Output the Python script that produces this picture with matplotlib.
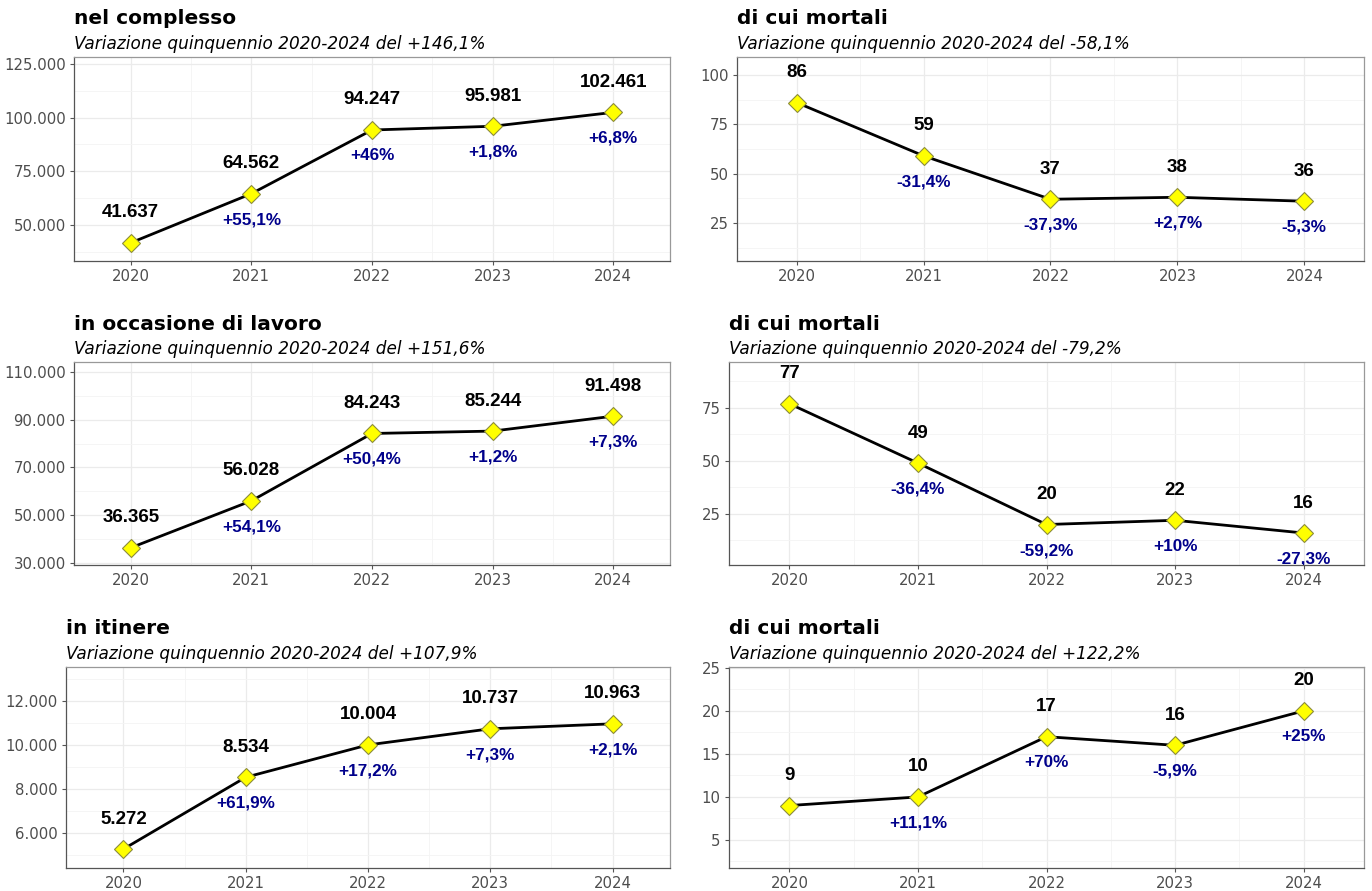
import numpy as np
import matplotlib.pyplot as plt

years = [2020, 2021, 2022, 2023, 2024]

titles = ["nel complesso", "di cui mortali",
          "in occasione di lavoro", "di cui mortali",
          "in itinere", "di cui mortali"]
subtitles = ["+146,1%", "-58,1%", "+151,6%", "-79,2%", "+107,9%", "+122,2%"]

tot_all = [41637, 64562, 94247, 95981, 102461]
tot_mort = [86, 59, 37, 38, 36]
lav_all = [36365, 56028, 84243, 85244, 91498]
lav_mort = [77, 49, 20, 22, 16]
itin_all = [5272, 8534, 10004, 10737, 10963]
itin_mort = [9, 10, 17, 16, 20]

pct_tot_all = ["+55,1%", "+46%", "+1,8%", "+6,8%"]
pct_tot_mort = ["-31,4%", "-37,3%", "+2,7%", "-5,3%"]
pct_lav_all = ["+54,1%", "+50,4%", "+1,2%", "+7,3%"]
pct_lav_mort = ["-36,4%", "-59,2%", "+10%", "-27,3%"]
pct_itin_all = ["+61,9%", "+17,2%", "+7,3%", "+2,1%"]
pct_itin_mort = ["+11,1%", "+70%", "-5,9%", "+25%"]

series = [tot_all, tot_mort, lav_all, lav_mort, itin_all, itin_mort]
pcts = [pct_tot_all, pct_tot_mort, pct_lav_all, pct_lav_mort, pct_itin_all, pct_itin_mort]

# panel boxes in pixels: left, top, right, bottom
W, H = 1372, 891
boxes = [(74, 57, 670, 261), (737, 57, 1364, 261),
         (74, 362, 670, 565), (729, 362, 1364, 565),
         (66, 667, 670, 868), (729, 667, 1364, 868)]
ylims = [(33180, 128270), (5.7, 109.1),
         (29160, 114180), (0.9, 96.7),
         (4410, 13545), (1.74, 25.1)]
ymaj = [25000, 25, 20000, 25, 2000, 5]
ymin_start = [50000, 25, 30000, 25, 6000, 5]


def fmt_it(v):
    return f"{int(v):,}".replace(",", ".")


fig = plt.figure(figsize=(W / 100, H / 100), dpi=100)
for i in range(6):
    l, t, r, b = boxes[i]
    ax = fig.add_axes([l / W, 1 - b / H, (r - l) / W, (b - t) / H])
    lo, hi = ylims[i]
    step = ymaj[i]
    majors = np.arange(ymin_start[i], hi, step)
    minors = np.arange(ymin_start[i] - step / 2, hi, step)
    minors = minors[(minors > lo) & (minors < hi)]
    ax.set_ylim(lo, hi)
    ax.set_xlim(2019.53, 2024.47)
    ax.set_yticks(majors)
    ax.set_yticklabels([fmt_it(v) for v in majors])
    ax.set_yticks(minors, minor=True)
    ax.set_xticks(years)
    ax.set_xticks([2020.5, 2021.5, 2022.5, 2023.5], minor=True)
    ax.grid(True, which='major', color='#EBEBEB', lw=0.9)
    ax.grid(True, which='minor', color='#F4F4F4', lw=0.6)
    ax.set_axisbelow(True)
    ax.tick_params(which='minor', length=0)
    ax.tick_params(which='major', length=3, color='#555555', labelcolor='#4D4D4D',
                   labelsize=10.7, pad=3)
    for s in ax.spines.values():
        s.set_color('#999999')
        s.set_linewidth(0.9)
    ax.spines['left'].set_color('#555555')
    ax.spines['bottom'].set_color('#555555')

    vals = series[i]
    ax.plot(years, vals, color='black', lw=2, zorder=3)
    ax.plot(years, vals, 'D', ms=9, mfc='#FFFF00', mec='#8C8C3C', mew=0.8, zorder=4)
    for x, v in zip(years, vals):
        ax.annotate(fmt_it(v), (x, v), xytext=(0, 30), textcoords='offset pixels',
                    ha='center', va='center', fontsize=13.5, fontweight='bold',
                    family='Liberation Sans', color='black', annotation_clip=False,
                    clip_on=True)
    for x, v, p in zip(years[1:], vals[1:], pcts[i]):
        ax.annotate(p, (x, v), xytext=(0, -26), textcoords='offset pixels',
                    ha='center', va='center', fontsize=12.3, fontweight='bold',
                    family='Liberation Sans', color='#00008B', clip_on=True)

    fig.text(l / W, 1 - 19 / H - (t - 57) / H, titles[i], fontsize=14.5, fontweight='bold',
             ha='left', va='center')
    fig.text(l / W, 1 - 44 / H - (t - 57) / H,
             "Variazione quinquennio 2020-2024 del " + subtitles[i],
             fontsize=12.2, style='italic', ha='left', va='center')

fig.savefig('out.png', dpi=100)
